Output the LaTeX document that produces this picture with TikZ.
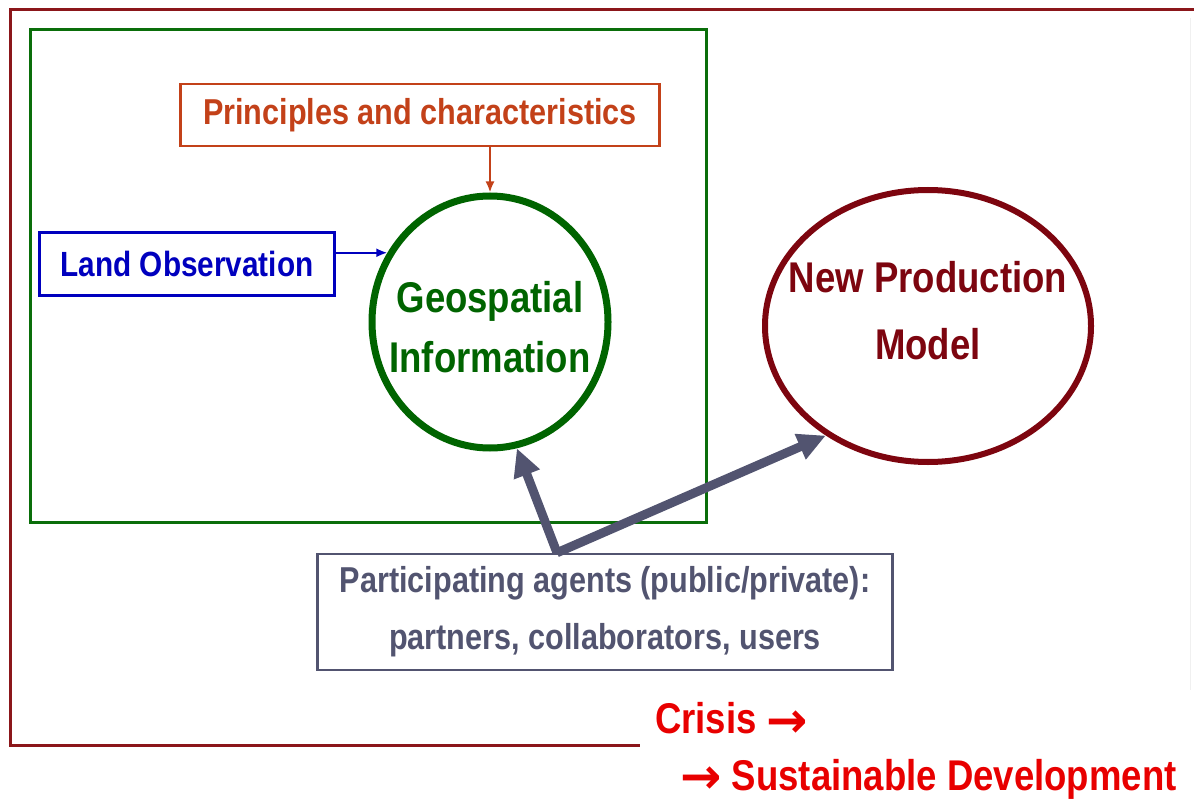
\documentclass[tikz,border=0pt]{standalone}
\usepackage{fontspec}
\usepackage{tikz}
\usetikzlibrary{arrows.meta}
\usetikzlibrary{shapes.geometric}

\newfontfamily\narrowsf[FakeStretch=0.85]{Liberation Sans}
\newfontfamily\arrowsf{DejaVu Sans}
\newcommand{\bigto}{\raisebox{-0.08em}{\scalebox{1.15}{\arrowsf\bfseries →}}}

\definecolor{framered}{RGB}{139,22,26}
\definecolor{boxgreen}{RGB}{10,110,10}
\definecolor{geogreen}{RGB}{0,100,0}
\definecolor{princorange}{RGB}{195,65,25}
\definecolor{landblue}{RGB}{0,0,190}
\definecolor{modelred}{RGB}{125,5,15}
\definecolor{agentgray}{RGB}{82,84,112}
\definecolor{crisisred}{RGB}{232,0,0}

\begin{document}
\begin{tikzpicture}[x = 1pt, y = -1pt,
    txt/.style 2 args = {font = \narrowsf\bfseries\fontsize{#1}{#2}\selectfont, align = center},
    bubble/.style = {ellipse, draw, inner sep = 0},
    textbox/.style = {draw, line width = 2.5pt, inner sep = 0, fill = white},
    thin arrow/.style = {-{Latex[length = 11pt, width = 9pt]}, line width = 2pt},
    fat arrow/.style = {-{Triangle[length = 28pt, width = 26pt]}, line width = 9pt, agentgray}]
    \useasboundingbox (0, 0) rectangle (1194, 805);

    %% frames
    \draw[framered, line width = 3pt] (1194, 10) -- (10, 10) -- (10, 745) -- (640, 745);
    \draw[black!6, line width = 1pt] (1190, 18) -- (1190, 690);
    \draw[boxgreen, line width = 3pt] (30, 30) rectangle (706, 522);

    %% circles
    \node[bubble, draw = geogreen, line width = 7pt, minimum width = 236pt, minimum height = 252pt] (geo) at (490, 322) {};
    \node[txt = {43}{60}, text = geogreen, yshift = -5pt] (geotext) at (geo.center) {Geospatial\\Information};
    \node[bubble, draw = modelred, line width = 6pt, minimum width = 326pt, minimum height = 272pt] (model) at (928, 326) {};
    \node[txt = {43}{67}, text = modelred, yshift = 15pt] (modeltext) at (model.center) {New Production\\Model};

    %% boxes
    \node[textbox, draw = princorange, text = princorange, txt = {36}{42},
        minimum width = 479pt, minimum height = 62pt] (princ) at (420, 115) {Principles and characteristics};
    \node[textbox, draw = landblue, text = landblue, txt = {35}{42},
        minimum width = 295pt, minimum height = 63pt] (land) at (187, 264) {Land Observation};
    \node[textbox, draw = agentgray, text = agentgray, txt = {36}{57},
        minimum width = 575pt, minimum height = 116pt] (agents) at (605, 612)
        {Participating agents (public/private):\\partners, collaborators, users};

    %% arrows
    \draw[thin arrow, princorange] (geo.north |- princ.south) -- (geo.north);
    \draw[thin arrow, landblue] (land.east |- geo.146) -- (geo.146);
    \coordinate (split) at ([xshift = -48pt]agents.north);
    \draw[fat arrow] (split) -- (geo.-78);
    \draw[fat arrow] (split) -- (model.-133);

    %% crisis
    \node[txt = {43}{50}, text = crisisred, anchor = west, inner sep = 0] (crisis) at (655, 720) {Crisis \bigto};
    \node[txt = {43}{50}, text = crisisred, anchor = west, inner sep = 0] (sustain) at (680, 779) {\bigto\ Sustainable Development};
\end{tikzpicture}
\end{document}
